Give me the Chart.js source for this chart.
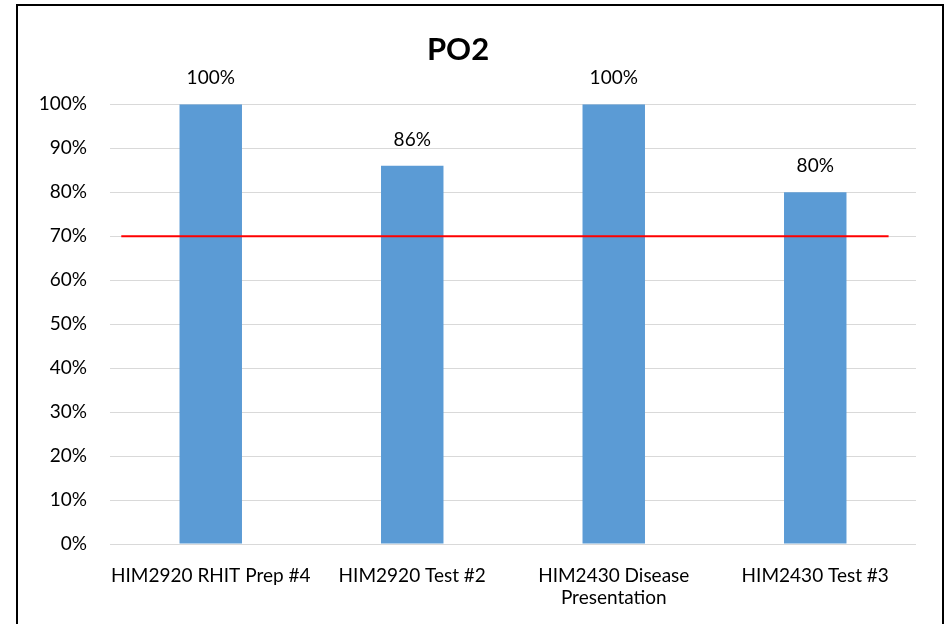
<!DOCTYPE html>
<html>
<head>
<meta charset="utf-8">
<script src="https://cdn.jsdelivr.net/npm/chart.js@4"></script>
<style>
  html, body { margin: 0; padding: 0; background: #fff; }
  #wrap { position: relative; width: 945px; height: 624px; }
  #frame { position: absolute; left: 16px; top: 4px; width: 924px; height: 640px; border: 2px solid #000; pointer-events: none; }
</style>
</head>
<body>
<div id="wrap">
  <canvas id="chart" width="945" height="624"></canvas>
  <div id="frame"></div>
</div>
<script>
// categories and values
let categories = ['HIM2920 RHIT Prep #4', 'HIM2920 Test #2', ['HIM2430 Disease', 'Presentation'], 'HIM2430 Test #3'];
let scores = [100, 86, 100, 80];
// target line (70%), x in percent of plot width
let targetX = [1.4, 96.6];
let targetY = [70, 70];
let yTicks = [0, 10, 20, 30, 40, 50, 60, 70, 80, 90, 100];

const fontFam = 'Lato, "Open Sans", sans-serif';

// data labels above bars
const barLabels = {
    id: 'barLabels',
    afterDatasetsDraw(chart) {
        let ctx = chart.ctx;
        let meta = chart.getDatasetMeta(0);
        ctx.save();
        ctx.font = '19px ' + fontFam;
        ctx.fillStyle = '#000';
        ctx.textAlign = 'center';
        ctx.textBaseline = 'middle';
        meta.data.forEach(function(bar, i) {
            ctx.fillText(scores[i] + '%', bar.x, bar.y - 26);
        });
        ctx.restore();
    }
};

new Chart(document.getElementById('chart'), {
    type: 'bar',
    data: {
        labels: categories,
        datasets: [{
            type: 'bar',
            data: scores,
            backgroundColor: '#5b9bd5',
            grouped: false,
            categoryPercentage: 1,
            barPercentage: 0.31,
            order: 2
        }, {
            type: 'line',
            xAxisID: 'x2',
            data: targetX.map((x, i) => ({ x: x, y: targetY[i] })),
            borderColor: '#ff0000',
            borderWidth: 2,
            pointRadius: 0,
            fill: false,
            order: 1
        }]
    },
    options: {
        responsive: false,
        animation: false,
        layout: { padding: { left: 0, right: 29, top: 0, bottom: 0 } },
        plugins: {
            legend: { display: false },
            tooltip: { enabled: false },
            title: {
                display: true,
                text: 'PO2',
                color: '#000',
                font: { family: fontFam, size: 31, weight: 'bold' },
                padding: { top: 31, bottom: 36 }
            }
        },
        scales: {
            x: {
                type: 'category',
                grid: { display: false, drawTicks: false },
                border: { display: false },
                ticks: {
                    color: '#000',
                    font: { family: fontFam, size: 19 },
                    padding: 20,
                    maxRotation: 0,
                    autoSkip: false
                },
                afterFit(scale) { scale.height = 80; }
            },
            x2: {
                type: 'linear',
                display: false,
                offset: false,
                min: 0,
                max: 100
            },
            y: {
                min: 0,
                max: 100,
                afterBuildTicks(scale) { scale.ticks = yTicks.map(v => ({ value: v })); },
                grid: { color: '#d9d9d9', lineWidth: 1, drawTicks: false },
                border: { display: false },
                ticks: {
                    color: '#000',
                    font: { family: fontFam, size: 19 },
                    padding: 23,
                    callback: v => v + '%'
                },
                afterFit(scale) { scale.width = 110; }
            }
        }
    },
    plugins: [barLabels]
});
</script>
</body>
</html>
